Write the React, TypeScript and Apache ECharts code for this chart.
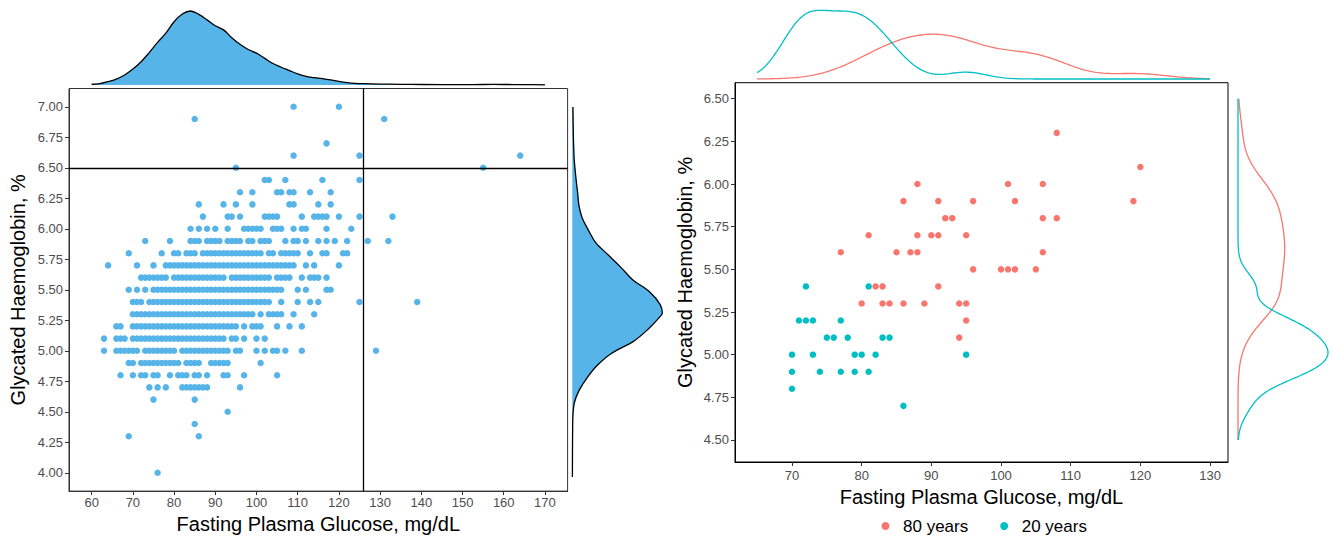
import React, { useEffect, useRef } from "react";
import * as echarts from "echarts";

// ---------------- Left panel data (all participants) ----------------
const hba1cLevels = [7.0, 6.9, 6.7, 6.6, 6.5, 6.4, 6.3, 6.2, 6.1, 6.0, 5.9, 5.8, 5.7, 5.6, 5.5, 5.4, 5.3, 5.2, 5.1, 5.0, 4.9, 4.8, 4.7, 4.6, 4.5, 4.4, 4.3, 4.0];
const fpgByLevel: number[][] = [
  [109, 120],
  [85, 131],
  [117],
  [109, 125, 164],
  [95, 155],
  [102, 103, 107, 116, 125],
  [96, 99, 105, 106, 108, 109, 113, 118],
  [86, 92, 95, 99, 108, 109, 115, 118],
  [87, 93, 94, 96, 102, 103, 104, 105, 111, 114, 115, 116, 117, 120, 125, 133],
  [84, 86, 88, 90, 93, 97, 98, 99, 100, 101, 104, 105, 106, 109, 111, 112, 117, 123],
  [73, 79, 84, 85, 86, 88, 89, 90, 91, 93, 94, 95, 96, 98, 99, 101, 102, 103, 107, 109, 110, 112, 115, 117, 119, 122, 127, 132],
  [69, 77, 80, 81, 83, 84, 85, 87, 88, 89, 90, 91, 92, 93, 94, 95, 96, 97, 98, 99, 100, 101, 103, 104, 106, 107, 108, 109, 110, 113, 116, 117, 121, 122],
  [64, 71, 75, 78, 79, 80, 81, 82, 83, 84, 85, 86, 87, 88, 89, 90, 91, 92, 93, 94, 95, 96, 97, 98, 99, 100, 101, 102, 103, 104, 105, 106, 107, 108, 109, 112, 114, 120],
  [72, 73, 74, 75, 76, 77, 78, 80, 81, 82, 83, 84, 85, 86, 87, 88, 89, 90, 91, 92, 94, 95, 96, 97, 98, 99, 100, 101, 102, 103, 105, 106, 107, 108, 111, 113, 114, 115, 117],
  [69, 71, 73, 75, 76, 77, 78, 79, 80, 81, 82, 83, 84, 85, 86, 87, 88, 89, 90, 91, 92, 93, 94, 95, 96, 97, 98, 99, 100, 101, 102, 103, 104, 105, 106, 110, 112, 117, 118],
  [70, 71, 72, 74, 75, 76, 77, 78, 79, 80, 81, 82, 83, 84, 85, 86, 87, 88, 89, 90, 91, 92, 93, 94, 95, 96, 97, 98, 99, 100, 101, 102, 103, 106, 110, 113, 115, 125, 139],
  [70, 71, 72, 73, 74, 75, 76, 77, 78, 79, 80, 81, 82, 83, 84, 85, 86, 87, 88, 89, 90, 91, 92, 93, 94, 95, 96, 97, 98, 99, 101, 103, 104, 105, 106, 109, 114],
  [66, 67, 70, 71, 72, 73, 74, 75, 76, 77, 78, 79, 80, 81, 82, 83, 84, 85, 86, 87, 88, 89, 90, 91, 92, 93, 94, 95, 97, 99, 100, 101, 105, 108, 111],
  [63, 66, 67, 68, 70, 71, 72, 73, 74, 75, 76, 77, 78, 79, 80, 81, 82, 83, 84, 85, 86, 87, 88, 89, 90, 91, 92, 94, 95, 97, 100, 102],
  [63, 66, 67, 68, 69, 70, 71, 73, 74, 75, 76, 77, 78, 79, 80, 82, 83, 84, 85, 86, 87, 88, 89, 90, 91, 92, 93, 95, 96, 100, 102, 104, 105, 107, 111, 129],
  [69, 70, 72, 73, 74, 75, 76, 77, 78, 79, 80, 81, 83, 84, 85, 86, 89, 90, 91, 92, 93, 101],
  [67, 70, 72, 73, 75, 76, 79, 81, 82, 83, 85, 86, 88, 92, 93, 97, 105],
  [74, 76, 78, 82, 83, 84, 85, 86, 87, 88, 96],
  [75, 85],
  [93],
  [85],
  [69, 86],
  [76],
];
const fpgCutoff = 126;
const hba1cCutoff = 6.5;
const leftXTicks = [60, 70, 80, 90, 100, 110, 120, 130, 140, 150, 160, 170];
const leftYTicks = [4.0, 4.25, 4.5, 4.75, 5.0, 5.25, 5.5, 5.75, 6.0, 6.25, 6.5, 6.75, 7.0];

// marginal densities (relative to peak)
const fpgDensityX = [60, 62, 64, 66, 68, 70, 72, 74, 76, 78, 80, 82, 84, 86, 88, 90, 92, 94, 96, 98, 100, 102, 104, 106, 108, 110, 112, 114, 116, 118, 120, 122, 124, 126, 130, 135, 140, 150, 155, 160, 165, 170];
const fpgDensity = [0.01, 0.02, 0.045, 0.08, 0.135, 0.215, 0.315, 0.44, 0.575, 0.7, 0.855, 0.96, 1.0, 0.955, 0.88, 0.8, 0.745, 0.64, 0.55, 0.48, 0.43, 0.36, 0.29, 0.24, 0.195, 0.15, 0.117, 0.1, 0.085, 0.068, 0.05, 0.032, 0.022, 0.018, 0.013, 0.009, 0.007, 0.005, 0.007, 0.007, 0.005, 0.002];
const hba1cDensityY = [7.0, 6.8, 6.6, 6.5, 6.4, 6.3, 6.2, 6.1, 6.0, 5.9, 5.8, 5.7, 5.6, 5.5, 5.4, 5.33, 5.3, 5.2, 5.1, 5.0, 4.9, 4.8, 4.7, 4.6, 4.5, 4.4, 4.2, 4.0];
const hba1cDensity = [0.007, 0.011, 0.019, 0.03, 0.044, 0.06, 0.074, 0.11, 0.18, 0.26, 0.4, 0.54, 0.67, 0.86, 0.975, 1.0, 0.975, 0.845, 0.68, 0.43, 0.27, 0.16, 0.074, 0.022, 0.007, 0.004, 0.002, 0.001];

// ---------------- Right panel data (by age group) ----------------
const old80Fpg = [77, 80, 81, 82, 83, 83, 84, 85, 86, 86, 87, 88, 88, 88, 89, 90, 91, 91, 91, 92, 93, 94, 94, 95, 95, 95, 96, 96, 100, 101, 101, 102, 102, 105, 106, 106, 106, 108, 108, 119, 120];
const old80Hba1c = [5.6, 5.3, 5.7, 5.4, 5.4, 5.3, 5.3, 5.6, 5.9, 5.3, 5.6, 6.0, 5.7, 5.6, 5.3, 5.7, 5.9, 5.7, 5.4, 5.8, 5.8, 5.3, 5.1, 5.7, 5.3, 5.2, 5.9, 5.5, 5.5, 6.0, 5.5, 5.9, 5.5, 5.5, 6.0, 5.8, 5.6, 6.3, 5.8, 5.9, 6.1];
const young20Fpg = [70, 70, 70, 71, 72, 72, 73, 73, 74, 75, 76, 77, 77, 78, 79, 79, 80, 81, 81, 82, 83, 84, 86, 95];
const young20Hba1c = [5.0, 4.9, 4.8, 5.2, 5.2, 5.4, 5.2, 5.0, 4.9, 5.1, 5.1, 5.2, 4.9, 5.1, 5.0, 4.9, 5.0, 5.4, 4.9, 5.0, 5.1, 5.1, 4.7, 5.0];
const groupNames = ["80 years", "20 years"];
const rightXTicks = [70, 80, 90, 100, 110, 120, 130];
const rightYTicks = [4.5, 4.75, 5.0, 5.25, 5.5, 5.75, 6.0, 6.25, 6.5];
const rightFpgRange = [65, 130];
const rightHba1cRange = [4.5, 6.5];

// ---------------- helpers ----------------
function quantile(sorted: number[], p: number) {
  const h = (sorted.length - 1) * p;
  const lo = Math.floor(h);
  const hi = Math.min(lo + 1, sorted.length - 1);
  return sorted[lo] + (h - lo) * (sorted[hi] - sorted[lo]);
}
function bwNrd0(x: number[]) {
  const n = x.length;
  const mean = x.reduce((a, b) => a + b, 0) / n;
  const sd = Math.sqrt(x.reduce((a, b) => a + (b - mean) * (b - mean), 0) / (n - 1));
  const s = [...x].sort((a, b) => a - b);
  const iqr = quantile(s, 0.75) - quantile(s, 0.25);
  const lo = Math.min(sd, iqr / 1.34) || sd || 1;
  return 0.9 * lo * Math.pow(n, -0.2);
}
function kde(x: number[], from: number, to: number, m = 256) {
  const bw = bwNrd0(x);
  const n = x.length;
  const out: number[][] = [];
  for (let i = 0; i < m; i++) {
    const t = from + ((to - from) * i) / (m - 1);
    let s = 0;
    for (const xi of x) {
      const z = (t - xi) / bw;
      s += Math.exp(-0.5 * z * z);
    }
    out.push([t, s / (n * bw * Math.sqrt(2 * Math.PI))]);
  }
  return out;
}

const FONT = '"Liberation Sans", Arial, Helvetica, sans-serif';
const BLUE = "#56B4E9";
const RED = "#F8766D";
const TEAL = "#00BFC4";

export default function App() {
  const ref = useRef<HTMLDivElement>(null);

  useEffect(() => {
    if (!ref.current) return;
    const chart = echarts.init(ref.current, undefined, { renderer: "svg" });

    const leftPoints = hba1cLevels.flatMap((h, i) => fpgByLevel[i].map((g) => [g, h]));
    const topDens = fpgDensityX.map((x, i) => [x, fpgDensity[i]]);
    const sideDens = hba1cDensityY.map((y, i) => [hba1cDensity[i], y]);

    const oldPts = old80Fpg.map((g, i) => [g, old80Hba1c[i]]);
    const youngPts = young20Fpg.map((g, i) => [g, young20Hba1c[i]]);
    const oldTop = kde(old80Fpg, rightFpgRange[0], rightFpgRange[1]);
    const youngTop = kde(young20Fpg, rightFpgRange[0], rightFpgRange[1]);
    const oldSide = kde(old80Hba1c, rightHba1cRange[0], rightHba1cRange[1]).map(([y, d]) => [d, y]);
    const youngSide = kde(young20Hba1c, rightHba1cRange[0], rightHba1cRange[1]).map(([y, d]) => [d, y]);

    const tickLabel = { color: "#4D4D4D", fontSize: 13, fontFamily: FONT };
    const axisTitle = { color: "#000", fontSize: 20, fontFamily: FONT };

    const L = { left: 69, top: 88.5, width: 498.6, height: 407 };
    const R = { left: 735, top: 82.7, width: 493, height: 379.3 };
    const LX = [54.5, 175.5];
    const LY = [3.85, 7.15];
    const RX = [61.82, 132.58];
    const RY = [4.371, 6.594];

    const hidden = { show: false };

    const bbox = (pts: number[][]) => {
      const mn = [Infinity, Infinity];
      const mx = [-Infinity, -Infinity];
      for (const p of pts) {
        mn[0] = Math.min(mn[0], p[0]); mn[1] = Math.min(mn[1], p[1]);
        mx[0] = Math.max(mx[0], p[0]); mx[1] = Math.max(mx[1], p[1]);
      }
      return [mn, mx];
    };

    const filledDensity = (pts: number[][], vertical: boolean) => (params: any, api: any) => {
      if (params.dataIndex !== 0) return null;
      const coords = pts.map((p) => api.coord(p));
      const first = pts[0];
      const last = pts[pts.length - 1];
      const b0 = vertical ? api.coord([0, first[1]]) : api.coord([first[0], 0]);
      const b1 = vertical ? api.coord([0, last[1]]) : api.coord([last[0], 0]);
      const poly = [b0, ...coords, b1];
      const box = bbox(poly);
      return {
        type: "group",
        children: [
          {
            type: "polygon",
            shape: { points: poly, smooth: 0.35, smoothConstraint: box },
            style: { fill: BLUE },
          },
          {
            type: "polyline",
            shape: { points: coords, smooth: 0.35, smoothConstraint: box },
            style: { stroke: "#000", lineWidth: 1.3, fill: "none" },
          },
        ],
      };
    };

    chart.setOption({
      animation: false,
      backgroundColor: "#fff",
      textStyle: { fontFamily: FONT },
      grid: [
        { ...L, show: true, borderColor: "#333", borderWidth: 1, backgroundColor: "transparent" },
        { left: L.left, width: L.width, top: 11, height: 74 },
        { left: 572.3, width: 90, top: L.top, height: L.height },
        { ...R, show: true, borderColor: "#000", borderWidth: 1, backgroundColor: "transparent" },
        { left: R.left, width: R.width, top: 10.3, height: 68.7 },
        { left: 1238, width: 90, top: R.top, height: R.height },
      ],
      xAxis: [
        {
          gridIndex: 0, type: "value", min: LX[0], max: LX[1],
          name: "Fasting Plasma Glucose, mg/dL", nameLocation: "middle", nameGap: 22, nameTextStyle: axisTitle,
          axisLine: { show: true, lineStyle: { color: "#333", width: 1 } },
          axisTick: { show: true, length: 4, customValues: leftXTicks, lineStyle: { color: "#333" } },
          axisLabel: { ...tickLabel, margin: 5, customValues: leftXTicks },
          splitLine: { show: false },
        },
        { gridIndex: 1, type: "value", min: LX[0], max: LX[1], ...hidden },
        { gridIndex: 2, type: "value", min: 0, max: 1, ...hidden },
        {
          gridIndex: 3, type: "value", min: RX[0], max: RX[1],
          name: "Fasting Plasma Glucose, mg/dL", nameLocation: "middle", nameGap: 18, nameTextStyle: axisTitle,
          axisLine: { show: true, lineStyle: { color: "#000", width: 1 } },
          axisTick: { show: true, length: 4, customValues: rightXTicks, lineStyle: { color: "#333" } },
          axisLabel: { ...tickLabel, margin: 7, customValues: rightXTicks },
          splitLine: { show: false },
        },
        { gridIndex: 4, type: "value", min: RX[0], max: RX[1], ...hidden },
        { gridIndex: 5, type: "value", min: 0, max: (v: any) => v.max, ...hidden },
      ],
      yAxis: [
        {
          gridIndex: 0, type: "value", min: LY[0], max: LY[1],
          name: "Glycated Haemoglobin, %", nameLocation: "middle", nameGap: 41, nameTextStyle: axisTitle,
          axisLine: { show: true, lineStyle: { color: "#333", width: 1 } },
          axisTick: { show: true, length: 4, customValues: leftYTicks, lineStyle: { color: "#333" } },
          axisLabel: { ...tickLabel, margin: 6, customValues: leftYTicks, formatter: (v: number) => v.toFixed(2) },
          splitLine: { show: false },
        },
        { gridIndex: 1, type: "value", min: 0, max: 1, ...hidden },
        { gridIndex: 2, type: "value", min: LY[0], max: LY[1], ...hidden },
        {
          gridIndex: 3, type: "value", min: RY[0], max: RY[1],
          name: "Glycated Haemoglobin, %", nameLocation: "middle", nameGap: 40, nameTextStyle: axisTitle,
          axisLine: { show: true, lineStyle: { color: "#000", width: 1 } },
          axisTick: { show: true, length: 4, customValues: rightYTicks, lineStyle: { color: "#333" } },
          axisLabel: { ...tickLabel, margin: 6, customValues: rightYTicks, formatter: (v: number) => v.toFixed(2) },
          splitLine: { show: false },
        },
        { gridIndex: 4, type: "value", min: 0, max: (v: any) => v.max, ...hidden },
        { gridIndex: 5, type: "value", min: RY[0], max: RY[1], ...hidden },
      ],
      legend: {
        data: groupNames,
        left: 881.5,
        top: 516,
        padding: 0,
        icon: "circle",
        itemWidth: 17,
        itemHeight: 8,
        itemGap: 32,
        textStyle: { color: "#000", fontSize: 17, fontFamily: FONT, lineHeight: 20, padding: [0, 0, 0, 4] },
      },
      series: [
        {
          type: "scatter", name: "all", xAxisIndex: 0, yAxisIndex: 0,
          data: leftPoints, symbolSize: 6.5, itemStyle: { color: BLUE, opacity: 1 },
          markLine: {
            silent: true, symbol: ["none", "none"], label: { show: false },
            lineStyle: { color: "#000", width: 1.3, type: "solid" },
            data: [{ xAxis: fpgCutoff }, { yAxis: hba1cCutoff }],
          },
        },
        {
          type: "custom", name: "fpg density", xAxisIndex: 1, yAxisIndex: 1,
          data: topDens, renderItem: filledDensity(topDens, false), clip: false,
        },
        {
          type: "custom", name: "hba1c density", xAxisIndex: 2, yAxisIndex: 2,
          data: sideDens, renderItem: filledDensity(sideDens, true), clip: false,
        },
        {
          type: "scatter", name: groupNames[0], xAxisIndex: 3, yAxisIndex: 3,
          data: oldPts, symbolSize: 6.5, itemStyle: { color: RED, opacity: 1 },
        },
        {
          type: "scatter", name: groupNames[1], xAxisIndex: 3, yAxisIndex: 3,
          data: youngPts, symbolSize: 6.5, itemStyle: { color: TEAL, opacity: 1 },
        },
        {
          type: "line", name: "old top", xAxisIndex: 4, yAxisIndex: 4, data: oldTop,
          showSymbol: false, lineStyle: { color: RED, width: 1.3 }, itemStyle: { color: RED }, clip: false,
        },
        {
          type: "line", name: "young top", xAxisIndex: 4, yAxisIndex: 4, data: youngTop,
          showSymbol: false, lineStyle: { color: TEAL, width: 1.3 }, itemStyle: { color: TEAL }, clip: false,
        },
        {
          type: "line", name: "old side", xAxisIndex: 5, yAxisIndex: 5, data: oldSide,
          showSymbol: false, lineStyle: { color: RED, width: 1.3 }, itemStyle: { color: RED }, clip: false,
        },
        {
          type: "line", name: "young side", xAxisIndex: 5, yAxisIndex: 5, data: youngSide,
          showSymbol: false, lineStyle: { color: TEAL, width: 1.3 }, itemStyle: { color: TEAL }, clip: false,
        },
      ],
    });

    return () => chart.dispose();
  }, []);

  return <div ref={ref} style={{ position: "fixed", left: 0, top: 0, width: 1334, height: 539 }} />;
}
